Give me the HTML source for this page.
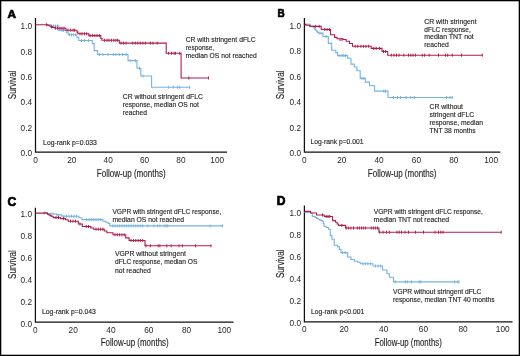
<!DOCTYPE html>
<html><head><meta charset="utf-8"><style>
html,body{margin:0;padding:0;background:#fff;}
body{width:520px;height:356px;overflow:hidden;font-family:"Liberation Sans", sans-serif;}
svg{display:block;will-change:transform;}
text{font-family:"Liberation Sans", sans-serif;}
.t{stroke:#231f20;stroke-width:0.14px;}
.L{stroke:#000;stroke-width:0.7px;}
</style></head><body>
<svg width="520" height="356" viewBox="0 0 520 356" font-family='"Liberation Sans", sans-serif'>
<rect x="0.65" y="0.65" width="518.7" height="354.7" fill="#fff" stroke="#000" stroke-width="1.3"/>
<text x="7.4" y="17.5" font-size="11.8" text-anchor="start" font-weight="bold" fill="#000" class="L">A</text>
<text transform="translate(277.5 17.4) scale(0.86 1)" font-size="11.6" text-anchor="start" font-weight="bold" fill="#000" class="L">B</text>
<text x="7.6" y="205.5" font-size="12.1" text-anchor="start" font-weight="bold" fill="#000" class="L">C</text>
<text x="276.8" y="205.0" font-size="12.1" text-anchor="start" font-weight="bold" fill="#000" class="L">D</text>
<path d="M35.5 18.0V152.0H227.0" fill="none" stroke="#111" stroke-width="1.25"/>
<text transform="translate(32.1 156.4) scale(0.9 1)" font-size="9.2" text-anchor="end" font-weight="normal" fill="#231f20" >0.0</text>
<text transform="translate(32.1 130.94) scale(0.9 1)" font-size="9.2" text-anchor="end" font-weight="normal" fill="#231f20" >0.2</text>
<text transform="translate(32.1 105.48) scale(0.9 1)" font-size="9.2" text-anchor="end" font-weight="normal" fill="#231f20" >0.4</text>
<text transform="translate(32.1 80.02) scale(0.9 1)" font-size="9.2" text-anchor="end" font-weight="normal" fill="#231f20" >0.6</text>
<text transform="translate(32.1 54.56) scale(0.9 1)" font-size="9.2" text-anchor="end" font-weight="normal" fill="#231f20" >0.8</text>
<text transform="translate(32.1 29.1) scale(0.9 1)" font-size="9.2" text-anchor="end" font-weight="normal" fill="#231f20" >1.0</text>
<text transform="translate(35.5 162.5) scale(0.9 1)" font-size="9.2" text-anchor="middle" font-weight="normal" fill="#231f20" >0</text>
<text transform="translate(71.85 162.5) scale(0.9 1)" font-size="9.2" text-anchor="middle" font-weight="normal" fill="#231f20" >20</text>
<text transform="translate(108.2 162.5) scale(0.9 1)" font-size="9.2" text-anchor="middle" font-weight="normal" fill="#231f20" >40</text>
<text transform="translate(144.55 162.5) scale(0.9 1)" font-size="9.2" text-anchor="middle" font-weight="normal" fill="#231f20" >60</text>
<text transform="translate(180.9 162.5) scale(0.9 1)" font-size="9.2" text-anchor="middle" font-weight="normal" fill="#231f20" >80</text>
<text transform="translate(217.25 162.5) scale(0.9 1)" font-size="9.2" text-anchor="middle" font-weight="normal" fill="#231f20" >100</text>
<path d="M304.4 18.0V152.0H500.4" fill="none" stroke="#111" stroke-width="1.25"/>
<text transform="translate(301.0 156.4) scale(0.9 1)" font-size="9.2" text-anchor="end" font-weight="normal" fill="#231f20" >0.0</text>
<text transform="translate(301.0 130.88) scale(0.9 1)" font-size="9.2" text-anchor="end" font-weight="normal" fill="#231f20" >0.2</text>
<text transform="translate(301.0 105.36) scale(0.9 1)" font-size="9.2" text-anchor="end" font-weight="normal" fill="#231f20" >0.4</text>
<text transform="translate(301.0 79.84) scale(0.9 1)" font-size="9.2" text-anchor="end" font-weight="normal" fill="#231f20" >0.6</text>
<text transform="translate(301.0 54.32) scale(0.9 1)" font-size="9.2" text-anchor="end" font-weight="normal" fill="#231f20" >0.8</text>
<text transform="translate(301.0 28.8) scale(0.9 1)" font-size="9.2" text-anchor="end" font-weight="normal" fill="#231f20" >1.0</text>
<text transform="translate(304.4 162.5) scale(0.9 1)" font-size="9.2" text-anchor="middle" font-weight="normal" fill="#231f20" >0</text>
<text transform="translate(341.75 162.5) scale(0.9 1)" font-size="9.2" text-anchor="middle" font-weight="normal" fill="#231f20" >20</text>
<text transform="translate(379.1 162.5) scale(0.9 1)" font-size="9.2" text-anchor="middle" font-weight="normal" fill="#231f20" >40</text>
<text transform="translate(416.45 162.5) scale(0.9 1)" font-size="9.2" text-anchor="middle" font-weight="normal" fill="#231f20" >60</text>
<text transform="translate(453.8 162.5) scale(0.9 1)" font-size="9.2" text-anchor="middle" font-weight="normal" fill="#231f20" >80</text>
<text transform="translate(491.15 162.5) scale(0.9 1)" font-size="9.2" text-anchor="middle" font-weight="normal" fill="#231f20" >100</text>
<path d="M35.4 207.7V322.1H233.5" fill="none" stroke="#111" stroke-width="1.25"/>
<text transform="translate(32.0 326.5) scale(0.9 1)" font-size="9.2" text-anchor="end" font-weight="normal" fill="#231f20" >0.0</text>
<text transform="translate(32.0 304.68) scale(0.9 1)" font-size="9.2" text-anchor="end" font-weight="normal" fill="#231f20" >0.2</text>
<text transform="translate(32.0 282.86) scale(0.9 1)" font-size="9.2" text-anchor="end" font-weight="normal" fill="#231f20" >0.4</text>
<text transform="translate(32.0 261.04) scale(0.9 1)" font-size="9.2" text-anchor="end" font-weight="normal" fill="#231f20" >0.6</text>
<text transform="translate(32.0 239.22) scale(0.9 1)" font-size="9.2" text-anchor="end" font-weight="normal" fill="#231f20" >0.8</text>
<text transform="translate(32.0 217.4) scale(0.9 1)" font-size="9.2" text-anchor="end" font-weight="normal" fill="#231f20" >1.0</text>
<text transform="translate(35.4 332.6) scale(0.9 1)" font-size="9.2" text-anchor="middle" font-weight="normal" fill="#231f20" >0</text>
<text transform="translate(73.18 332.6) scale(0.9 1)" font-size="9.2" text-anchor="middle" font-weight="normal" fill="#231f20" >20</text>
<text transform="translate(110.96 332.6) scale(0.9 1)" font-size="9.2" text-anchor="middle" font-weight="normal" fill="#231f20" >40</text>
<text transform="translate(148.74 332.6) scale(0.9 1)" font-size="9.2" text-anchor="middle" font-weight="normal" fill="#231f20" >60</text>
<text transform="translate(186.52 332.6) scale(0.9 1)" font-size="9.2" text-anchor="middle" font-weight="normal" fill="#231f20" >80</text>
<text transform="translate(224.3 332.6) scale(0.9 1)" font-size="9.2" text-anchor="middle" font-weight="normal" fill="#231f20" >100</text>
<path d="M304.4 205.5V321.8H512.6" fill="none" stroke="#111" stroke-width="1.25"/>
<text transform="translate(301.0 326.2) scale(0.9 1)" font-size="9.2" text-anchor="end" font-weight="normal" fill="#231f20" >0.0</text>
<text transform="translate(301.0 304.08) scale(0.9 1)" font-size="9.2" text-anchor="end" font-weight="normal" fill="#231f20" >0.2</text>
<text transform="translate(301.0 281.96) scale(0.9 1)" font-size="9.2" text-anchor="end" font-weight="normal" fill="#231f20" >0.4</text>
<text transform="translate(301.0 259.84) scale(0.9 1)" font-size="9.2" text-anchor="end" font-weight="normal" fill="#231f20" >0.6</text>
<text transform="translate(301.0 237.72) scale(0.9 1)" font-size="9.2" text-anchor="end" font-weight="normal" fill="#231f20" >0.8</text>
<text transform="translate(301.0 215.6) scale(0.9 1)" font-size="9.2" text-anchor="end" font-weight="normal" fill="#231f20" >1.0</text>
<text transform="translate(304.4 332.3) scale(0.9 1)" font-size="9.2" text-anchor="middle" font-weight="normal" fill="#231f20" >0</text>
<text transform="translate(344.06 332.3) scale(0.9 1)" font-size="9.2" text-anchor="middle" font-weight="normal" fill="#231f20" >20</text>
<text transform="translate(383.72 332.3) scale(0.9 1)" font-size="9.2" text-anchor="middle" font-weight="normal" fill="#231f20" >40</text>
<text transform="translate(423.38 332.3) scale(0.9 1)" font-size="9.2" text-anchor="middle" font-weight="normal" fill="#231f20" >60</text>
<text transform="translate(463.04 332.3) scale(0.9 1)" font-size="9.2" text-anchor="middle" font-weight="normal" fill="#231f20" >80</text>
<text transform="translate(502.7 332.3) scale(0.9 1)" font-size="9.2" text-anchor="middle" font-weight="normal" fill="#231f20" >100</text>
<text class="t" x="0" y="0" font-size="10.6" fill="#231f20" text-anchor="middle" textLength="28.6" lengthAdjust="spacingAndGlyphs" transform="translate(16.0 84.9) rotate(-90)">Survival</text>
<text class="t" x="0" y="0" font-size="10.6" fill="#231f20" text-anchor="middle" textLength="28.6" lengthAdjust="spacingAndGlyphs" transform="translate(284.3 84.9) rotate(-90)">Survival</text>
<text class="t" x="0" y="0" font-size="10.6" fill="#231f20" text-anchor="middle" textLength="28.6" lengthAdjust="spacingAndGlyphs" transform="translate(16.0 264.6) rotate(-90)">Survival</text>
<text class="t" x="0" y="0" font-size="10.6" fill="#231f20" text-anchor="middle" textLength="28.6" lengthAdjust="spacingAndGlyphs" transform="translate(284.3 263.8) rotate(-90)">Survival</text>
<text x="96.8" y="176.6" font-size="10.4" text-anchor="start" font-weight="normal" fill="#231f20" textLength="68.8" lengthAdjust="spacingAndGlyphs" class="t">Follow-up (months)</text>
<text x="367.8" y="176.6" font-size="10.4" text-anchor="start" font-weight="normal" fill="#231f20" textLength="68.7" lengthAdjust="spacingAndGlyphs" class="t">Follow-up (months)</text>
<text x="100.7" y="345.8" font-size="10.4" text-anchor="start" font-weight="normal" fill="#231f20" textLength="68.0" lengthAdjust="spacingAndGlyphs" class="t">Follow-up (months)</text>
<text x="374.7" y="345.6" font-size="10.4" text-anchor="start" font-weight="normal" fill="#231f20" textLength="67.1" lengthAdjust="spacingAndGlyphs" class="t">Follow-up (months)</text>
<text x="43.1" y="144.5" font-size="7.3" text-anchor="start" font-weight="normal" fill="#231f20" textLength="53.8" lengthAdjust="spacingAndGlyphs" class="t">Log-rank p=0.033</text>
<text x="310.5" y="144.3" font-size="7.3" text-anchor="start" font-weight="normal" fill="#231f20" textLength="52.9" lengthAdjust="spacingAndGlyphs" class="t">Log-rank p=0.001</text>
<text x="42.0" y="314.1" font-size="7.3" text-anchor="start" font-weight="normal" fill="#231f20" textLength="53.8" lengthAdjust="spacingAndGlyphs" class="t">Log-rank p=0.043</text>
<text x="311.0" y="314.1" font-size="7.3" text-anchor="start" font-weight="normal" fill="#231f20" textLength="53.2" lengthAdjust="spacingAndGlyphs" class="t">Log-rank p&lt;0.001</text>
<text x="185.7" y="42.0" font-size="7.2" text-anchor="start" font-weight="normal" fill="#231f20" textLength="70.0" lengthAdjust="spacingAndGlyphs" class="t">CR with stringent dFLC</text>
<text x="185.7" y="49.8" font-size="7.2" text-anchor="start" font-weight="normal" fill="#231f20" textLength="28.5" lengthAdjust="spacingAndGlyphs" class="t">response,</text>
<text x="185.7" y="57.8" font-size="7.2" text-anchor="start" font-weight="normal" fill="#231f20" textLength="71.0" lengthAdjust="spacingAndGlyphs" class="t">median OS not reached</text>
<text x="122.7" y="98.8" font-size="7.2" text-anchor="start" font-weight="normal" fill="#231f20" textLength="80.2" lengthAdjust="spacingAndGlyphs" class="t">CR without stringent dFLC</text>
<text x="122.7" y="106.6" font-size="7.2" text-anchor="start" font-weight="normal" fill="#231f20" textLength="76.3" lengthAdjust="spacingAndGlyphs" class="t">response, median OS not</text>
<text x="122.7" y="114.5" font-size="7.2" text-anchor="start" font-weight="normal" fill="#231f20" textLength="24.3" lengthAdjust="spacingAndGlyphs" class="t">reached</text>
<text x="424.3" y="23.5" font-size="7.2" text-anchor="start" font-weight="normal" fill="#231f20" textLength="52.3" lengthAdjust="spacingAndGlyphs" class="t">CR with stringent</text>
<text x="424.3" y="31.5" font-size="7.2" text-anchor="start" font-weight="normal" fill="#231f20" textLength="46.5" lengthAdjust="spacingAndGlyphs" class="t">dFLC response,</text>
<text x="424.3" y="39.4" font-size="7.2" text-anchor="start" font-weight="normal" fill="#231f20" textLength="49.5" lengthAdjust="spacingAndGlyphs" class="t">median TNT not</text>
<text x="424.3" y="47.2" font-size="7.2" text-anchor="start" font-weight="normal" fill="#231f20" textLength="24.5" lengthAdjust="spacingAndGlyphs" class="t">reached</text>
<text x="429.5" y="108.5" font-size="7.2" text-anchor="start" font-weight="normal" fill="#231f20" textLength="33.5" lengthAdjust="spacingAndGlyphs" class="t">CR without</text>
<text x="429.5" y="116.8" font-size="7.2" text-anchor="start" font-weight="normal" fill="#231f20" textLength="44.7" lengthAdjust="spacingAndGlyphs" class="t">stringent dFLC</text>
<text x="429.5" y="124.7" font-size="7.2" text-anchor="start" font-weight="normal" fill="#231f20" textLength="53.5" lengthAdjust="spacingAndGlyphs" class="t">response, median</text>
<text x="429.5" y="132.8" font-size="7.2" text-anchor="start" font-weight="normal" fill="#231f20" textLength="46.2" lengthAdjust="spacingAndGlyphs" class="t">TNT 38 months</text>
<text x="112.4" y="213.8" font-size="7.2" text-anchor="start" font-weight="normal" fill="#231f20" textLength="108.9" lengthAdjust="spacingAndGlyphs" class="t">VGPR with stringent dFLC response,</text>
<text x="112.4" y="221.6" font-size="7.2" text-anchor="start" font-weight="normal" fill="#231f20" textLength="71.7" lengthAdjust="spacingAndGlyphs" class="t">median OS not reached</text>
<text x="115.0" y="255.9" font-size="7.2" text-anchor="start" font-weight="normal" fill="#231f20" textLength="70.9" lengthAdjust="spacingAndGlyphs" class="t">VGPR without stringent</text>
<text x="115.0" y="264.1" font-size="7.2" text-anchor="start" font-weight="normal" fill="#231f20" textLength="82.4" lengthAdjust="spacingAndGlyphs" class="t">dFLC response, median OS</text>
<text x="115.0" y="272.5" font-size="7.2" text-anchor="start" font-weight="normal" fill="#231f20" textLength="35.9" lengthAdjust="spacingAndGlyphs" class="t">not reached</text>
<text x="373.7" y="213.9" font-size="7.2" text-anchor="start" font-weight="normal" fill="#231f20" textLength="109.1" lengthAdjust="spacingAndGlyphs" class="t">VGPR with stringent dFLC response,</text>
<text x="373.7" y="221.7" font-size="7.2" text-anchor="start" font-weight="normal" fill="#231f20" textLength="75.4" lengthAdjust="spacingAndGlyphs" class="t">median TNT not reached</text>
<text x="392.9" y="293.8" font-size="7.2" text-anchor="start" font-weight="normal" fill="#231f20" textLength="88.6" lengthAdjust="spacingAndGlyphs" class="t">VGPR without stringent dFLC</text>
<text x="392.9" y="301.7" font-size="7.2" text-anchor="start" font-weight="normal" fill="#231f20" textLength="101.8" lengthAdjust="spacingAndGlyphs" class="t">response, median TNT 40 months</text>
<path d="M46.0 24.7H51.2V26.0H58.7V30.4H66.3V32.7H68.3V34.8H76.8V37.3H78.8V40.5H92.3V43.6H94.2V50.6H97.7V54.5H128V60.6H137V68.2H140.8V76.0H151.6V87.2H190.2V87.2" fill="none" stroke="#74b2e4" stroke-width="1.1"/>
<path d="M53.5 24.5v3M55.4 24.5v3M57.5 24.5v3M62 28.9v3M63.6 28.9v3M69.5 33.3v3M71.5 33.3v3M73.5 33.3v3M75.8 33.3v3M81.5 39.0v3M84.4 39.0v3M88.5 39.0v3M99.4 53.0v3M102.9 53.0v3M108 53.0v3M113.3 53.0v3M115.9 53.0v3M119.3 53.0v3M122.6 53.0v3M126 53.0v3M130.2 59.1v3M135.3 59.1v3M139.5 66.7v3M142.9 74.5v3M168.4 85.7v3M173.3 85.7v3M177.6 85.7v3M179.7 85.7v3M189.5 85.7v3" fill="none" stroke="#74b2e4" stroke-width="1"/>
<path d="M35.5 24.7H47.7V25.3H49.2V26.0H50.8V26.9H52.5V27.5H55.0V28.2H66V30.2H77V32.1H78V33.8H88.8V35.6H100.8V38.5H102V40.3H119.3V43.1H166.2V53.3H181.1V78.0H208.5V78.0" fill="none" stroke="#b21c47" stroke-width="1.1"/>
<path d="M46.4 23.2v3M51.5 25.4v3M55.4 26.7v3M57.5 26.7v3M60 26.7v3M62 26.7v3M64 26.7v3M68 28.7v3M70.6 28.7v3M73 28.7v3M74.6 28.7v3M80 32.3v3M82 32.3v3M84.4 32.3v3M86.7 32.3v3M90 34.1v3M92.5 34.1v3M94.8 34.1v3M97 34.1v3M99.4 34.1v3M104.6 38.8v3M107 38.8v3M109 38.8v3M111.5 38.8v3M113.8 38.8v3M115.9 38.8v3M117.6 38.8v3M121 41.6v3M123.5 41.6v3M126 41.6v3M132.8 41.6v3M135.3 41.6v3M137.8 41.6v3M140.3 41.6v3M142.9 41.6v3M145.4 41.6v3M150.4 41.6v3M153 41.6v3M157.2 41.6v3M168.7 51.8v3M171.5 51.8v3M174 51.8v3M175.5 51.8v3M179.7 51.8v3M188.8 76.5v3M208.5 76.5v3" fill="none" stroke="#b21c47" stroke-width="1"/>
<path d="M305.5 24.3H310.2V26.3H313.2V27.8H314.5V29.0H315.6V30.2H316.7V31.2H317.5V32.4H318.5V33.2H323V36.5H328.3V43.4H331.7V50.3H335.8V52.6H337.5V55.6H347.6V58.2H351V64.1H354.3V67.0H356.9V70.7H360.2V78.4H365.3V82.1H369.5V85.8H374.6V91.1H388V97.5H452.3V97.5" fill="none" stroke="#74b2e4" stroke-width="1.1"/>
<path d="M320 31.7v3M322 31.7v3M326 35.0v3M339.8 54.1v3M342.1 54.1v3M343.8 54.1v3M345.6 54.1v3M362 76.9v3M364 76.9v3M383.8 89.6v3M385.5 89.6v3M393.5 96.0v3M397.3 96.0v3M400.4 96.0v3M406.2 96.0v3M410.8 96.0v3M414.2 96.0v3M446.5 96.0v3M450 96.0v3M452.3 96.0v3" fill="none" stroke="#74b2e4" stroke-width="1"/>
<path d="M304.6 24.4H306V25.3H309.8V26.4H321.2V29.5H330.6V34.7H334.6V37.4H337V38.8H343V39.5H346.2V41.3H349.5V43.5H352.5V46.3H371.2V48.4H382V51.5H387.7V55.2H482.3V55.2" fill="none" stroke="#b21c47" stroke-width="1.1"/>
<path d="M315.3 24.9v3M319.2 24.9v3M324.8 28.0v3M327.1 28.0v3M329.4 28.0v3M340 38.0v3M342 38.0v3M355.2 44.8v3M357.7 44.8v3M361 44.8v3M363.6 44.8v3M366 44.8v3M368.7 44.8v3M373.7 46.9v3M376.2 46.9v3M379.6 46.9v3M383.5 50.0v3M385.5 50.0v3M391.4 53.7v3M394 53.7v3M396.5 53.7v3M399 53.7v3M403.8 53.7v3M408.5 53.7v3M410.8 53.7v3M413 53.7v3M415.4 53.7v3M422.3 53.7v3M424.6 53.7v3M429.2 53.7v3M438.5 53.7v3M445.4 53.7v3M447.7 53.7v3M452.3 53.7v3M461.5 53.7v3M482.3 53.7v3" fill="none" stroke="#b21c47" stroke-width="1"/>
<path d="M43.0 212.9H47.5V213.6H50.0V214.0H56.5V214.9H61.8V216.3H78.9V217.7H82.0V219.6H102.9V221.2H105.8V222.3H108.0V223.5H109.8V225.9H222.7V225.9" fill="none" stroke="#74b2e4" stroke-width="1.1"/>
<path d="M44.5 211.5v3M50.9 212.5v3M53 212.5v3M58 213.7v3M64 214.8v3M66.5 214.8v3M69 214.8v3M71.5 214.8v3M74 214.8v3M76.5 214.8v3M86.7 218.1v3M89 218.1v3M91.3 218.1v3M93.7 218.1v3M96 218.1v3M98.3 218.1v3M100.6 218.1v3M112.7 224.4v3M115 224.4v3M117.3 224.4v3M119.6 224.4v3M121.9 224.4v3M124.2 224.4v3M126.5 224.4v3M128.8 224.4v3M131.1 224.4v3M133.4 224.4v3M135.7 224.4v3M138 224.4v3M140.3 224.4v3M142.6 224.4v3M147.8 224.4v3M153.8 224.4v3M157.3 224.4v3M159.9 224.4v3M164.2 224.4v3M166 224.4v3M167.7 224.4v3M210.1 224.4v3M222.7 224.4v3" fill="none" stroke="#74b2e4" stroke-width="1"/>
<path d="M35.4 213.1H47.4V214.2H48.8V215.0H50.0V215.6H51.2V216.2H52.2V216.8H53.5V217.6H60.5V218.6H65.5V219.8H68.2V221.2H78.3V224.0H82.3V226.5H90.8V228.0H93.7V229.2H104.3V231.0H106.9V232.7H113.0V234.8H125.7V237.9H129.1V240.5H145.0V245.8H211.0V245.8" fill="none" stroke="#b21c47" stroke-width="1.1"/>
<path d="M56 216.0v3M58.5 216.0v3M63.5 217.1v3M70.5 219.7v3M73 219.7v3M75.5 219.7v3M80 222.5v3M86.2 225.0v3M88.5 225.0v3M96 227.7v3M98.3 227.7v3M100.6 227.7v3M102.9 227.7v3M115 233.3v3M117.3 233.3v3M119.6 233.3v3M121.9 233.3v3M124.2 233.3v3M131 239.0v3M133.5 239.0v3M135.8 239.0v3M138.1 239.0v3M140.4 239.0v3M142.7 239.0v3M146 244.3v3M150.4 244.3v3M158.2 244.3v3M159.9 244.3v3M166.8 244.3v3M171.2 244.3v3M179 244.3v3M182.4 244.3v3M195.4 244.3v3M211 244.3v3" fill="none" stroke="#b21c47" stroke-width="1"/>
<path d="M304.5 212.5H310.4V213.0H312.3V216.5H315.2V217.5H316.5V218.4H318.0V219.2H319.5V219.9H321.0V220.6H322.5V221.3H323.3V223.5H324.0V226.3H326.2V227.5H328.5V229.2H330.3V235.6H331.9V239.3H334.2V245.2H337.6V246.9H339.3V249.4H341.0V252.6H347.7V257.0H351.0V259.5H354.4V261.2H357.8V262.2H360.3V263.8H373.0V266.0H382.5V270.0H387.0V273.8H389.3V277.3H393.5V281.9H459.0V281.9" fill="none" stroke="#74b2e4" stroke-width="1.1"/>
<path d="M342.6 251.1v3M345.2 251.1v3M362.9 262.3v3M365.4 262.3v3M367.9 262.3v3M370.5 262.3v3M375.5 264.5v3M378 264.5v3M380.6 264.5v3M395.4 280.4v3M405.4 280.4v3M407.4 280.4v3M411.5 280.4v3M419.2 280.4v3M420.8 280.4v3M454.6 280.4v3M457.7 280.4v3M459 280.4v3" fill="none" stroke="#74b2e4" stroke-width="1"/>
<path d="M304.5 211.4H310.6V213.0H316.5V215.0H324.3V216.5H332.6V220.6H335.5V222.3H337.2V224.0H338.5V225.4H345.5V228.0H378.9V232.2H501.2V232.2" fill="none" stroke="#b21c47" stroke-width="1.1"/>
<path d="M322.5 213.5v3M326.2 215.0v3M328 215.0v3M329.7 215.0v3M341.8 223.9v3M346.3 226.5v3M348.4 226.5v3M350.9 226.5v3M353.5 226.5v3M357.3 226.5v3M359.4 226.5v3M361.5 226.5v3M363.6 226.5v3M365.7 226.5v3M371.2 226.5v3M373.3 226.5v3M375.4 226.5v3M377.5 226.5v3M379.6 230.7v3M383 230.7v3M386.5 230.7v3M389.3 230.7v3M397 230.7v3M399.2 230.7v3M401.5 230.7v3M405 230.7v3M408.5 230.7v3M415.4 230.7v3M423.5 230.7v3M435 230.7v3M438.5 230.7v3M440.8 230.7v3M443 230.7v3M501.2 230.7v3" fill="none" stroke="#b21c47" stroke-width="1"/>
</svg>
</body></html>
